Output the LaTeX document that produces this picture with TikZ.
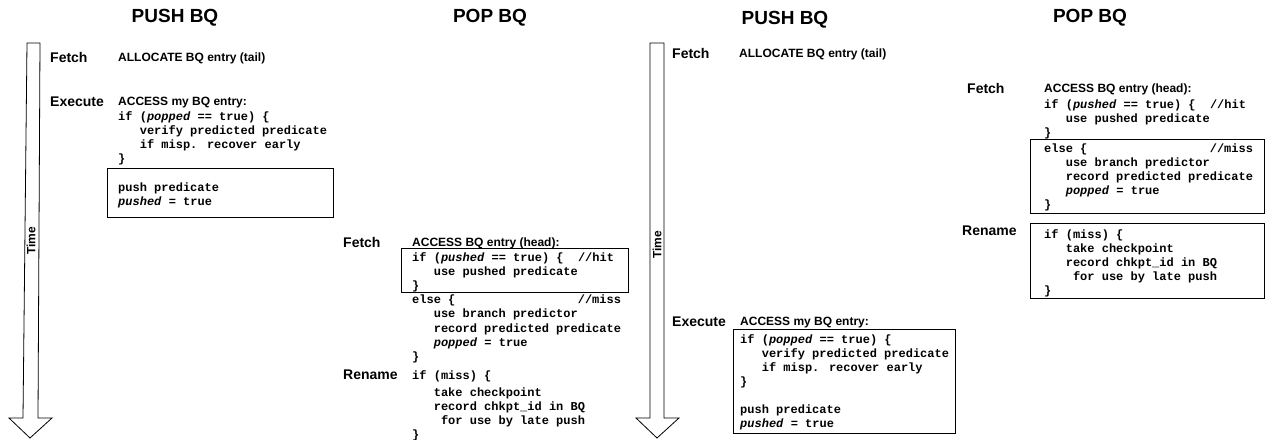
\documentclass[tikz,border=0pt]{standalone}
\usepackage{fontspec}
\setmainfont{Liberation Sans}
\newfontfamily\codefont{Liberation Mono}
\usetikzlibrary{positioning}
\tikzset{
  code/.style={font=\codefont\bfseries\fontsize{12}{14}\selectfont, anchor=base west, inner sep=0pt},
  lbl/.style={font=\bfseries\fontsize{14}{16}\selectfont, anchor=base west, inner sep=0pt},
  hdr/.style={font=\bfseries\fontsize{12}{14}\selectfont, anchor=base west, inner sep=0pt},
  ttl/.style={font=\bfseries\fontsize{19}{22}\selectfont, anchor=base, inner sep=0pt},
  timelbl/.style={font=\bfseries\fontsize{12}{14}\selectfont, rotate=90, inner sep=0pt},
  codebox/.style={draw=black, line width=0.9pt},
  timearrow/.style={draw=black, line width=0.8pt, fill=white},
}
\newcommand{\codeblock}[5]{% name, x, y of first baseline, step, lines
  \foreach \l [count=\i from 0] in {#5} {
    \node[code] (#1-\i) at (#2, {#3+\i*#4}) {\l};
  }}
\begin{document}
\begin{tikzpicture}[x=1pt,y=-1pt]
\useasboundingbox (0,0) rectangle (1266,439);

% ---------------- Panel 1: PUSH BQ ----------------
\node[ttl] (t1) at (175,22) {PUSH BQ};
\draw[timearrow] (27,43) -- (40,43) -- (38,418) -- (52,418) -- (30,438) -- (9,418) -- (23,418) -- cycle;
\node[timelbl] (time1) at (31,241) {Time};
\node[lbl] (f1) at (50,62) {Fetch};
\node[hdr] (alloc1) at (118,61) {ALLOCATE BQ entry (tail)};
\node[lbl] (e1) at (50,106) {Execute};
\node[hdr] (acc1) at (118,105) {ACCESS my BQ entry:};
\codeblock{c1}{118}{120}{14}{{if (\textit{popped} == true) \{},{~~~verify predicted predicate},{~~~if misp. recover early},{\}}}
\draw[codebox] (107,168) rectangle (333,217);
\codeblock{p1}{118}{191}{14.5}{{push predicate},{\textit{pushed} = true}}

% ---------------- Panel 2: POP BQ ----------------
\node[ttl] (t2) at (490,22) {POP BQ};
\node[lbl] (f2) at (343,247) {Fetch};
\node[hdr] (acc2) at (412,246) {ACCESS BQ entry (head):};
\draw[codebox] (401,248) rectangle (628,292);
\codeblock{c2}{412}{261}{14.2}{{if (\textit{pushed} == true) \{~~//hit},{~~~use pushed predicate},{\}},{else \{~~~~~~~~~~~~~~~~~//miss},{~~~use branch predictor},{~~~record predicted predicate},{~~~\textit{popped} = true},{\}}}
\node[lbl] (r2) at (343,379) {Rename};
\node[code] (m2-0) at (412,379) {if (miss) \{};
\codeblock{m2}{412}{396}{14}{{~~~take checkpoint},{~~~record chkpt\_id in BQ},{~~~~for use by late push},{\}}}

% ---------------- Panel 3: PUSH BQ ----------------
\node[ttl] (t3) at (785,24) {PUSH BQ};
\draw[timearrow] (650,43) -- (664,43) -- (664,418) -- (679,418) -- (657,438) -- (636,418) -- (650,418) -- cycle;
\node[timelbl] (time2) at (657,245) {Time};
\node[lbl] (f3) at (672,58) {Fetch};
\node[hdr] (alloc3) at (739,57) {ALLOCATE BQ entry (tail)};
\node[lbl] (e3) at (672,326) {Execute};
\node[hdr] (acc3) at (740,325) {ACCESS my BQ entry:};
\draw[codebox] (733,329) rectangle (955,433);
\codeblock{c3}{740}{343}{14}{{if (\textit{popped} == true) \{},{~~~verify predicted predicate},{~~~if misp. recover early},{\}}}
\codeblock{p3}{740}{413}{14}{{push predicate},{\textit{pushed} = true}}

% ---------------- Panel 4: POP BQ ----------------
\node[ttl] (t4) at (1090,22) {POP BQ};
\node[lbl] (f4) at (967,93) {Fetch};
\node[hdr] (acc4) at (1044,92.5) {ACCESS BQ entry (head):};
\codeblock{c4}{1044}{108}{14}{{if (\textit{pushed} == true) \{~~//hit},{~~~use pushed predicate},{\}}}
\draw[codebox] (1030,139) rectangle (1264,213);
\codeblock{e4}{1044}{152}{14}{{else \{~~~~~~~~~~~~~~~~~//miss},{~~~use branch predictor},{~~~record predicted predicate},{~~~\textit{popped} = true},{\}}}
\node[lbl] (r4) at (962,235) {Rename};
\draw[codebox] (1030,223) rectangle (1264,298);
\codeblock{m4}{1044}{238}{14}{{if (miss) \{},{~~~take checkpoint},{~~~record chkpt\_id in BQ},{~~~~for use by late push},{\}}}
\end{tikzpicture}
\end{document}
